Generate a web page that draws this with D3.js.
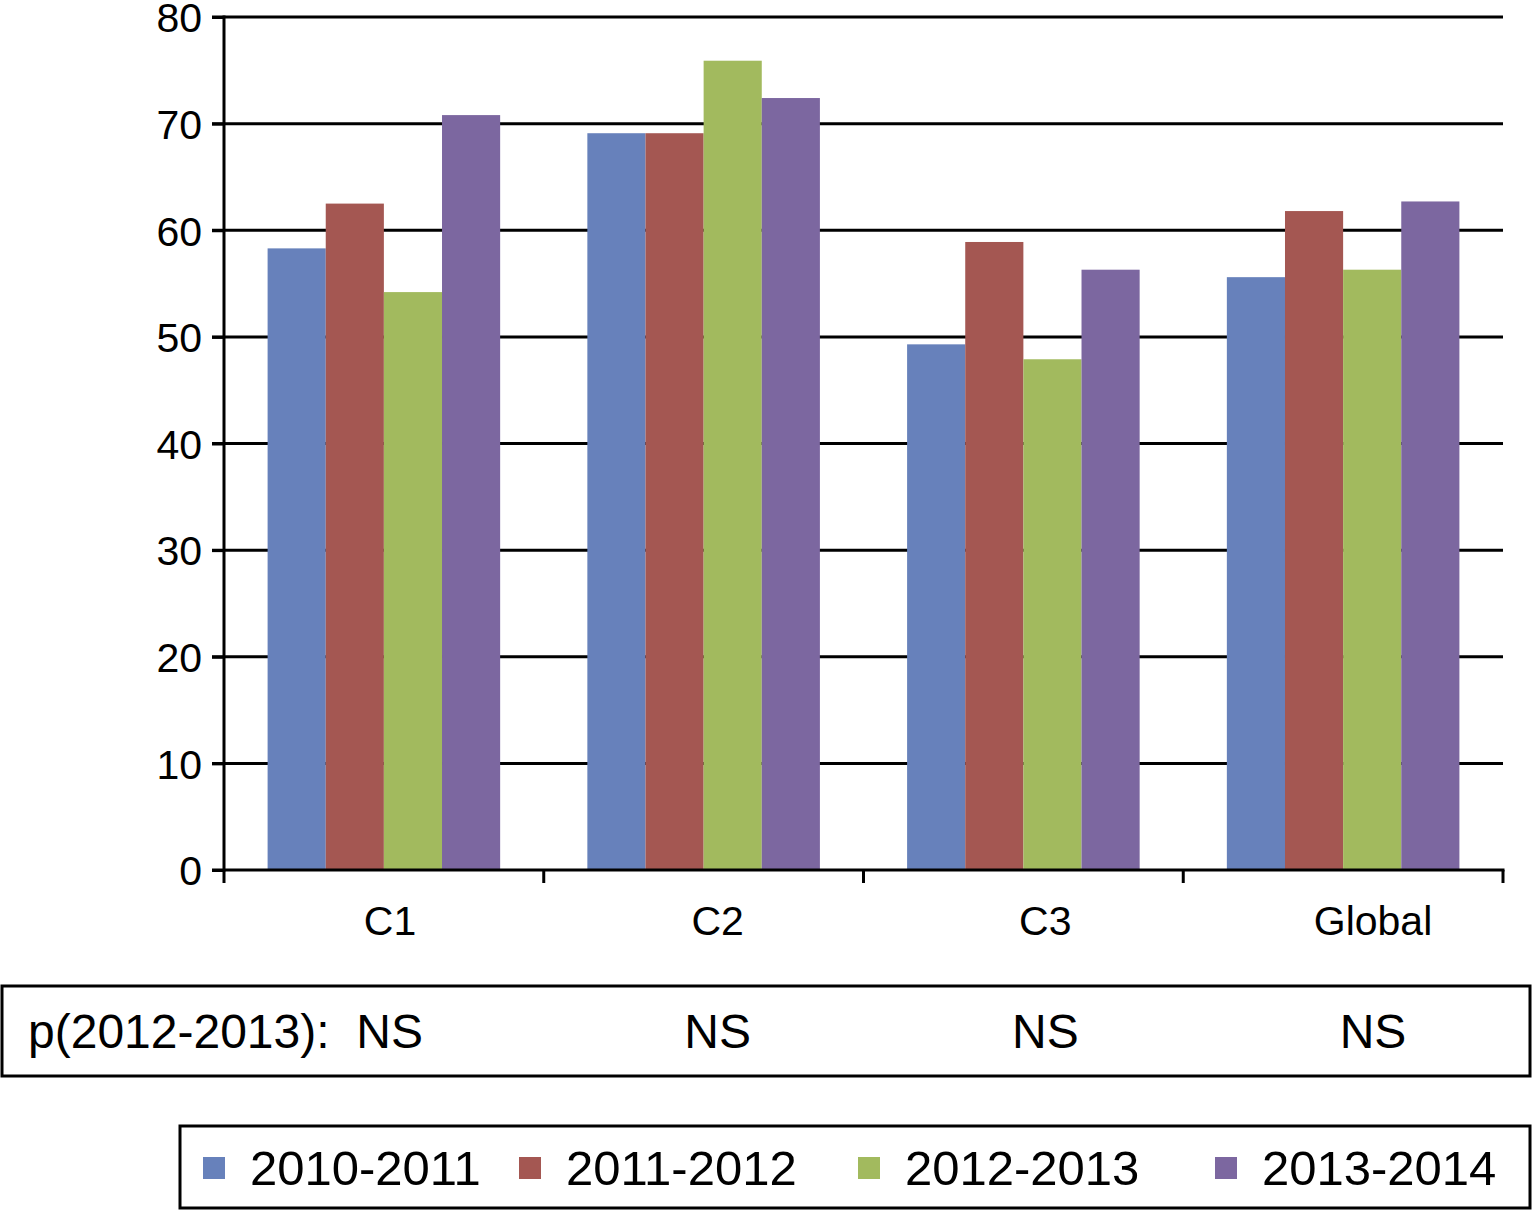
<!DOCTYPE html>
<html>
<head>
<meta charset="utf-8">
<script src="https://cdn.jsdelivr.net/npm/d3@7"></script>
<style>
  body { margin: 0; background: #fff; }
  text { font-family: "Liberation Sans", Arial, sans-serif; fill: #000; }
</style>
</head>
<body>
<svg id="chart" width="1534" height="1211"></svg>
<script>
// data
var categories = ["C1", "C2", "C3", "Global"];
var seriesNames = ["2010-2011", "2011-2012", "2012-2013", "2013-2014"];
var v2010 = [58.3, 69.1, 49.3, 55.6];
var v2011 = [62.5, 69.1, 58.9, 61.8];
var v2012 = [54.2, 75.9, 47.9, 56.3];
var v2013 = [70.8, 72.4, 56.3, 62.7];
var pValues = ["NS", "NS", "NS", "NS"];
var yTicks = [0, 10, 20, 30, 40, 50, 60, 70, 80];
var colors = ["#6781BB", "#A45752", "#A2BA5E", "#7C67A0"];

var svg = d3.select("#chart");
// plot area edges (note: "top" is reserved on window, so use plot* names)
var plotLeft = 224, plotRight = 1503, plotTop = 17, plotBottom = 870;

var allSeries = [v2010, v2011, v2012, v2013];
// rows of {cat, series, value}
var rows = [];
categories.forEach(function(c, i) {
  seriesNames.forEach(function(s, j) {
    rows.push({cat: c, series: s, value: allSeries[j][i], idx: j});
  });
});

var x0 = d3.scaleBand().domain(categories).range([plotLeft, plotRight]).padding(0);
var x1 = d3.scaleBand().domain(seriesNames).range([0, x0.bandwidth()])
           .paddingInner(0).paddingOuter(0.75);
var y = d3.scaleLinear().domain([0, 80]).range([plotBottom, plotTop]);

// gridlines
svg.append("g").selectAll("line")
   .data(yTicks.filter(function(d) { return d > 0; }))
   .enter().append("line")
   .attr("x1", plotLeft - 12).attr("x2", plotRight)
   .attr("y1", function(d) { return y(d); })
   .attr("y2", function(d) { return y(d); })
   .attr("stroke", "#000").attr("stroke-width", 3);

// bars
svg.append("g").selectAll("rect")
   .data(rows)
   .enter().append("rect")
   .attr("x", function(d) { return x0(d.cat) + x1(d.series); })
   .attr("y", function(d) { return y(d.value); })
   .attr("width", x1.bandwidth())
   .attr("height", function(d) { return y(0) - y(d.value); })
   .attr("fill", function(d) { return colors[d.idx]; });

// y axis
var yAxis = d3.axisLeft(y).tickValues(yTicks).tickSize(12).tickPadding(10);
var gy = svg.append("g").attr("transform", "translate(" + plotLeft + ",0)").call(yAxis);
gy.select(".domain").attr("stroke", "#000").attr("stroke-width", 3)
  .attr("d", "M0," + (plotTop - 1.5) + "V" + (plotBottom + 1.5));
gy.selectAll(".tick line").attr("stroke", "#000").attr("stroke-width", 3);
gy.selectAll(".tick text").style("font-size", "41px").attr("font-family", null)
  .attr("dy", "0.36em");

// x axis line with category boundary ticks
var bounds = categories.map(function(c) { return x0(c); }).concat([plotRight]);
svg.append("line").attr("x1", plotLeft - 12).attr("x2", plotRight + 1.5)
   .attr("y1", plotBottom).attr("y2", plotBottom)
   .attr("stroke", "#000").attr("stroke-width", 3);
svg.append("g").selectAll("line")
   .data(bounds).enter().append("line")
   .attr("x1", function(d) { return d; }).attr("x2", function(d) { return d; })
   .attr("y1", plotBottom).attr("y2", plotBottom + 13)
   .attr("stroke", "#000").attr("stroke-width", 3);

// label columns (labels and p-values share the table columns)
var xc = d3.scalePoint().domain(categories).range([390, 1373]);

svg.append("g").selectAll("text")
   .data(categories).enter().append("text")
   .attr("x", function(d) { return xc(d); })
   .attr("y", 935)
   .attr("text-anchor", "middle")
   .style("font-size", "41px")
   .text(function(d) { return d; });

// p-value row
svg.append("rect").attr("x", 2).attr("y", 986).attr("width", 1528).attr("height", 90)
   .attr("fill", "none").attr("stroke", "#000").attr("stroke-width", 3);
svg.append("text").attr("x", 28).attr("y", 1048)
   .style("font-size", "48px").attr("xml:space", "preserve")
   .text("p(2012-2013):  " + pValues[0]);
svg.append("g").selectAll("text")
   .data(categories.slice(1)).enter().append("text")
   .attr("x", function(d) { return xc(d); })
   .attr("y", 1048)
   .attr("text-anchor", "middle")
   .style("font-size", "48px")
   .text(function(d, i) { return pValues[i + 1]; });

// legend
svg.append("rect").attr("x", 180).attr("y", 1126).attr("width", 1350).attr("height", 82)
   .attr("fill", "none").attr("stroke", "#000").attr("stroke-width", 3);
var legX = [203, 519, 858, 1215];
var leg = svg.append("g").selectAll("g")
   .data(seriesNames).enter().append("g")
   .attr("transform", function(d, i) { return "translate(" + legX[i] + ",1157)"; });
leg.append("rect").attr("width", 22).attr("height", 22)
   .attr("fill", function(d, i) { return colors[i]; });
leg.append("text").attr("x", 47).attr("y", 28)
   .style("font-size", "49px")
   .text(function(d) { return d; });
</script>
</body>
</html>
